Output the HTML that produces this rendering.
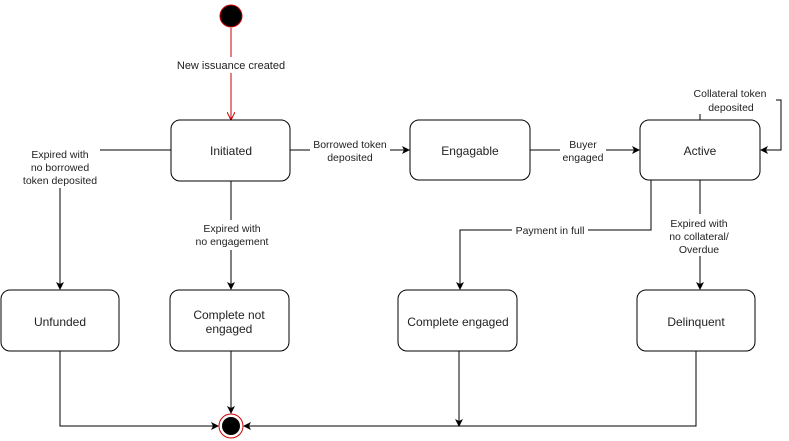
<!DOCTYPE html>
<html><head><style>body{margin:0;background:#fff}svg{display:block}</style></head><body>
<svg width="789" height="441" viewBox="0 0 789 441" xmlns="http://www.w3.org/2000/svg" font-family="Liberation Sans, sans-serif" font-size="11" fill="none">
<defs>
<marker id="a" markerWidth="8" markerHeight="8" refX="7" refY="4" orient="auto" markerUnits="userSpaceOnUse"><path d="M0,0 L8,4 L0,8 L2,4z" fill="#000"/></marker>
<marker id="r" markerWidth="8" markerHeight="8" refX="7" refY="4" orient="auto" markerUnits="userSpaceOnUse"><path d="M0,0 L8,4 L0,8" stroke="#c00" fill="none"/></marker>
</defs>
<circle cx="231" cy="16" r="11" fill="#000" stroke="#c00"/>
<line x1="231" y1="28" x2="231" y2="119" stroke="#c00" marker-end="url(#r)"/>
<rect x="225" y="57" width="0" height="0"/>
<rect x="170" y="57" width="122" height="16" fill="#fff"/>
<g stroke="#000">
<rect x="171" y="120" width="119" height="61" rx="9" fill="#fff"/>
<rect x="410" y="120" width="120" height="60" rx="9" fill="#fff"/>
<rect x="640" y="120" width="120" height="60" rx="9" fill="#fff"/>
<rect x="1" y="290" width="118" height="61" rx="9" fill="#fff"/>
<rect x="170" y="290" width="119" height="61" rx="9" fill="#fff"/>
<rect x="398" y="290" width="119" height="61" rx="9" fill="#fff"/>
<rect x="637" y="290" width="118" height="61" rx="9" fill="#fff"/>
<path d="M171,150 H100"/>
<path d="M60,188 V289" marker-end="url(#a)"/>
<path d="M231,181 V289" marker-end="url(#a)"/>
<path d="M290,150 H409" marker-end="url(#a)"/>
<path d="M530,150 H639" marker-end="url(#a)"/>
<path d="M700,120 V100 H781 V150 H761" marker-end="url(#a)"/>
<path d="M651,180 V230 H460 V289" marker-end="url(#a)"/>
<path d="M700,180 V289" marker-end="url(#a)"/>
<path d="M60,351 V426 H218" marker-end="url(#a)"/>
<path d="M231,351 V413" marker-end="url(#a)"/>
<path d="M459,351 V426" marker-end="url(#a)"/>
<path d="M696,351 V426 H244" marker-end="url(#a)"/>
</g>
<circle cx="231" cy="426" r="12" fill="#fff" stroke="#c00"/>
<circle cx="231" cy="426" r="9" fill="#000"/>
<g fill="#fff">
<rect x="310" y="138" width="80" height="26"/>
<rect x="560" y="138" width="46" height="26"/>
<rect x="686" y="86" width="90" height="28"/>
<rect x="512" y="224" width="76" height="14"/>
<rect x="664" y="214" width="74" height="42"/>
<rect x="190" y="220" width="84" height="30"/>
</g>
<g fill="#222" text-anchor="middle">
<text x="231" y="69">New issuance created</text>
<text x="231" y="155" font-size="12">Initiated</text>
<text x="470" y="155" font-size="12">Engagable</text>
<text x="700" y="155" font-size="12">Active</text>
<text x="60" y="326" font-size="12">Unfunded</text>
<text x="229" y="319" font-size="12">Complete not</text>
<text x="229" y="333" font-size="12">engaged</text>
<text x="458" y="326" font-size="12">Complete engaged</text>
<text x="696" y="326" font-size="12">Delinquent</text>
<text x="60" y="158" font-size="10.5">Expired with</text>
<text x="60" y="171" font-size="10.5">no borrowed</text>
<text x="60" y="184" font-size="10.5">token deposited</text>
<text x="350" y="148" font-size="10.5">Borrowed token</text>
<text x="350" y="161" font-size="10.5">deposited</text>
<text x="583" y="148" font-size="10.5">Buyer</text>
<text x="583" y="161" font-size="10.5">engaged</text>
<text x="730" y="97" font-size="10.5">Collateral token</text>
<text x="731" y="111" font-size="10.5">deposited</text>
<text x="550" y="234" font-size="10.5">Payment in full</text>
<text x="699" y="227" font-size="10.5">Expired with</text>
<text x="699" y="240" font-size="10.5">no collateral/</text>
<text x="699" y="253" font-size="10.5">Overdue</text>
<text x="232" y="232" font-size="10.5">Expired with</text>
<text x="232" y="245" font-size="10.5">no engagement</text>
</g>
</svg>
</body></html>
